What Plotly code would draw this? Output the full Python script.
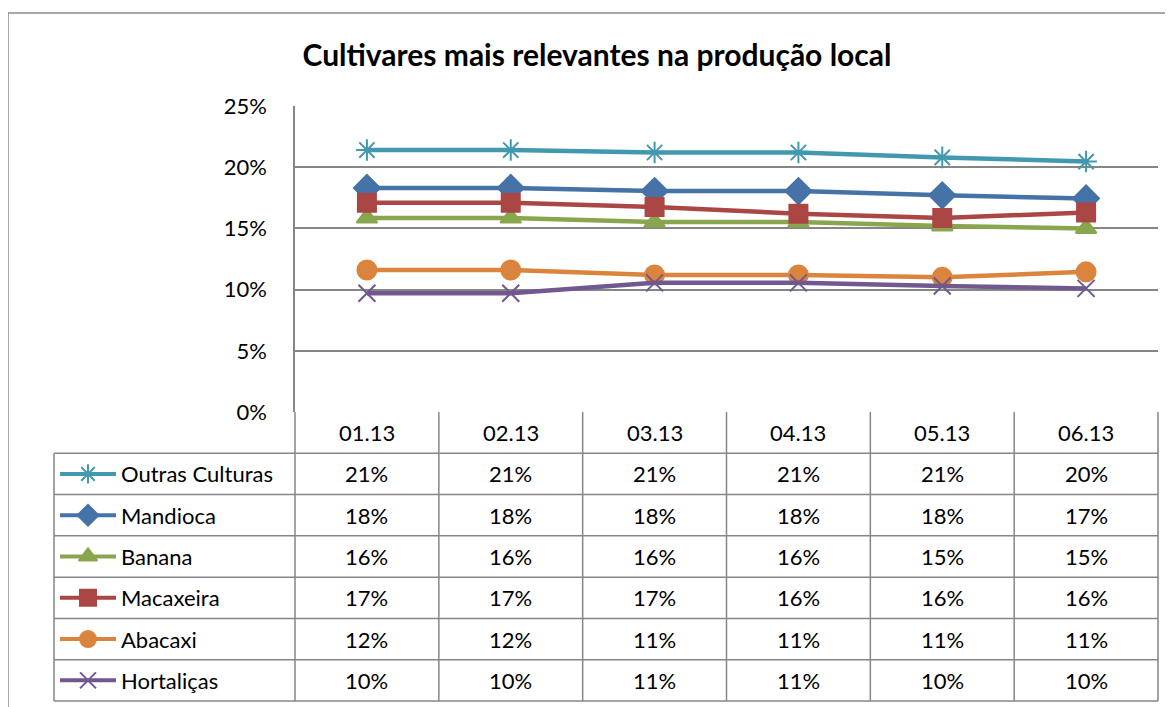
import plotly.graph_objects as go

# page body has an 8px margin, so the figure starts at (8, 8)
OFF = 8
W, H = 1173 - OFF, 707 - OFF

meses = ["01.13", "02.13", "03.13", "04.13", "05.13", "06.13"]
series = ["Outras Culturas", "Mandioca", "Banana", "Macaxeira", "Abacaxi", "Hortaliças"]

outras = [0.214, 0.214, 0.212, 0.212, 0.208, 0.2046]
mandioca = [0.183, 0.183, 0.1805, 0.1805, 0.177, 0.1745]
banana = [0.1585, 0.1585, 0.1552, 0.1552, 0.152, 0.150]
macaxeira = [0.171, 0.171, 0.1675, 0.162, 0.1585, 0.163]
abacaxi = [0.116, 0.116, 0.112, 0.112, 0.110, 0.1145]
hortalicas = [0.097, 0.097, 0.1055, 0.1055, 0.103, 0.101]

valores = [outras, mandioca, banana, macaxeira, abacaxi, hortalicas]
cores = ["#4198AF", "#4572A7", "#89A54E", "#AA4643", "#DB843D", "#71588F"]
simbolos = ["asterisk-open", "diamond", "triangle-up", "square", "circle", "x-thin-open"]
tamanhos = [18, 20, 18, 18, 19, 17]

FONT = "Lato"
GRID = "#868686"

# plot area in page pixels
PL, PR, PT, PB = 295, 1158, 106, 412
ROW_H = (701 - PB) / 7
TAB_L = 54


def fx(x):
    return (x - OFF) / W


def fy(y):
    return 1 - (y - OFF) / H


fig = go.Figure()

for nome, vals, cor, sim, tam in zip(series, valores, cores, simbolos, tamanhos):
    fig.add_trace(go.Scatter(
        x=meses, y=vals, name=nome, mode="lines+markers",
        line=dict(color=cor, width=4.5),
        marker=dict(symbol=sim, size=tam, color=cor,
                    line=dict(color=cor, width=2)),
        showlegend=False,
    ))

shapes = []
annots = []


def hline(x0, x1, y):
    shapes.append(dict(type="line", xref="paper", yref="paper",
                       x0=fx(x0), x1=fx(x1), y0=fy(y), y1=fy(y),
                       line=dict(color=GRID, width=1.5)))


def vline(x, y0, y1):
    shapes.append(dict(type="line", xref="paper", yref="paper",
                       x0=fx(x), x1=fx(x), y0=fy(y0), y1=fy(y1),
                       line=dict(color=GRID, width=1.5)))


def texto(x, y, s, anchor="center"):
    annots.append(dict(x=fx(x), y=fy(y), xref="paper", yref="paper",
                       text=s, showarrow=False, xanchor=anchor,
                       yanchor="middle",
                       font=dict(family=FONT, size=22, color="#000")))


# outer chart frame
shapes.append(dict(type="rect", xref="paper", yref="paper",
                   x0=fx(8), x1=fx(1200), y0=fy(740), y1=fy(13),
                   line=dict(color="#8c8c8c", width=1.5)))

# data table grid
col_w = (PR - PL) / len(meses)
header_b = PB + ROW_H
tab_b = header_b + ROW_H * len(series)
for i in range(len(meses) + 1):
    vline(PL + i * col_w, PB, tab_b)
vline(TAB_L, header_b, tab_b)
for r in range(len(series) + 1):
    hline(TAB_L, PR, header_b + r * ROW_H)

for i, m in enumerate(meses):
    texto(PL + (i + 0.5) * col_w, PB + ROW_H / 2, m)

for r, (nome, vals, cor, sim) in enumerate(zip(series, valores, cores, simbolos)):
    yc = header_b + (r + 0.5) * ROW_H
    texto(119, yc, nome, anchor="left")
    for i, v in enumerate(vals):
        texto(PL + (i + 0.5) * col_w, yc, f"{v:.0%}")
    # legend key: line + marker on a pixel-space axis over the key column
    fig.add_trace(go.Scatter(
        x=[60, 116], y=[yc, yc], mode="lines", xaxis="x2", yaxis="y2",
        line=dict(color=cor, width=4), showlegend=False, hoverinfo="skip"))
    fig.add_trace(go.Scatter(
        x=[88], y=[yc], mode="markers", xaxis="x2", yaxis="y2",
        marker=dict(symbol=sim, size=16, color=cor, line=dict(color=cor, width=2)),
        showlegend=False, hoverinfo="skip"))

fig.update_layout(
    width=W, height=H,
    margin=dict(l=0, r=0, t=0, b=0),
    paper_bgcolor="white", plot_bgcolor="rgba(0,0,0,0)",
    title=dict(text="<b>Cultivares mais relevantes na produção local</b>",
               x=fx(597), y=fy(55), xanchor="center", yanchor="middle",
               font=dict(family=FONT, size=30, color="#000")),
    xaxis=dict(domain=[fx(PL), fx(PR)], range=[-0.5, 5.5],
               showticklabels=False, showgrid=False, zeroline=False,
               showline=False),
    yaxis=dict(domain=[fy(PB), fy(PT)], range=[0, 0.25], dtick=0.05,
               tickformat=".0%", showgrid=True, gridcolor=GRID, gridwidth=1.5,
               zeroline=False, showline=True, linecolor=GRID, linewidth=1.5,
               ticks="", ticklabelstandoff=22, automargin=False,
               tickfont=dict(family=FONT, size=22, color="#000")),
    xaxis2=dict(domain=[fx(TAB_L), fx(PL)], range=[TAB_L, PL],
                visible=False, fixedrange=True),
    yaxis2=dict(domain=[fy(tab_b), fy(header_b)], range=[tab_b, header_b],
                visible=False, fixedrange=True),
    shapes=shapes,
    annotations=annots,
)

fig.write_html("out.html")
